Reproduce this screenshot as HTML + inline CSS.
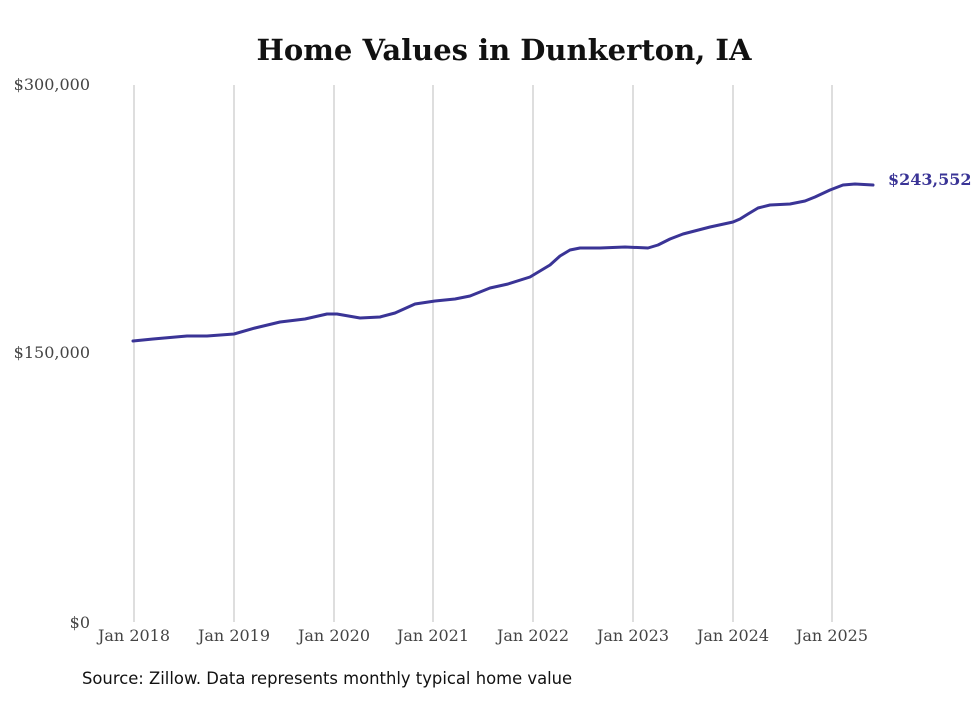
<!DOCTYPE html>
<html><head><meta charset="utf-8"><style>
body{margin:0;background:#fff;}
svg text{font-family:"DejaVu Serif","Liberation Serif",serif;}
</style></head><body>
<svg width="980" height="699" xmlns="http://www.w3.org/2000/svg">
<rect width="980" height="699" fill="#fff"/>
<text x="504" y="60" text-anchor="middle" font-size="29" font-weight="bold" fill="#111">Home Values in Dunkerton, IA</text>
<g stroke="#bdbdbd" stroke-width="1">
<line x1="134" y1="85" x2="134" y2="622"/><line x1="234" y1="85" x2="234" y2="622"/>
<line x1="334" y1="85" x2="334" y2="622"/><line x1="433" y1="85" x2="433" y2="622"/>
<line x1="533" y1="85" x2="533" y2="622"/><line x1="633" y1="85" x2="633" y2="622"/>
<line x1="733" y1="85" x2="733" y2="622"/><line x1="832" y1="85" x2="832" y2="622"/>
</g>
<g font-size="16" fill="#444" text-anchor="end">
<text x="90" y="90">$300,000</text><text x="90" y="358">$150,000</text><text x="90" y="628">$0</text>
</g>
<g font-size="16" fill="#444" text-anchor="middle">
<text x="134" y="641">Jan 2018</text><text x="234" y="641">Jan 2019</text><text x="334" y="641">Jan 2020</text>
<text x="433" y="641">Jan 2021</text><text x="533" y="641">Jan 2022</text><text x="633" y="641">Jan 2023</text>
<text x="733" y="641">Jan 2024</text><text x="832" y="641">Jan 2025</text>
</g>
<polyline fill="none" stroke="#3a3496" stroke-width="3" stroke-linejoin="round" stroke-linecap="round"
points="133,341 153,339 187,336 207,336 234,334 255,328 280,322 305,319 327,314 337,314 360,318 380,317 395,313 415,304 435,301 455,299 470,296 490,288 508,284 530,277 550,265 560,256 570,250 580,248 600,248 625,247 648,248 658,245 670,239 683,234 710,227 733,222 740,219 748,214 758,208 770,205 790,204 805,201 815,197 830,190 843,185 855,184 873,185"/>
<text x="888" y="185" font-size="16" font-weight="bold" fill="#3a3496">$243,552</text>
<text x="82" y="684" font-size="16.4" fill="#111" style="font-family:'DejaVu Sans',sans-serif">Source: Zillow. Data represents monthly typical home value</text>
</svg>
</body></html>
